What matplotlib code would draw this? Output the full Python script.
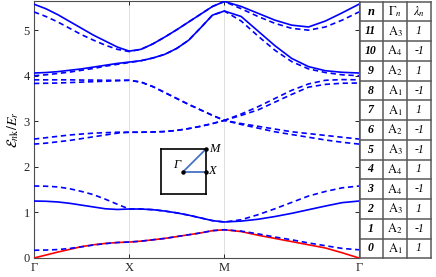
import numpy as np
import matplotlib
matplotlib.use("Agg")
import matplotlib.pyplot as plt

plt.rcParams['font.family'] = ['Liberation Serif', 'DejaVu Serif']
plt.rcParams['mathtext.fontset'] = 'stix'

# ---- data: band energies sampled along Γ-X, X-M, M-Γ (9 samples per segment, shared ends)
frac = [0, .125, .25, .375, .5, .625, .75, .875, 1]
seg_len = [1.0, 1.0, np.sqrt(2)]
k_labels = ['Γ', 'X', 'M', 'Γ']

band0 = [0, .065, .13, .19, .25, .29, .32, .34, .35,
         .37, .40, .43, .47, .51, .55, .60, .62,
         .58, .50, .43, .36, .29, .22, .115, 0]
band1 = [.17, .175, .185, .21, .245, .285, .315, .34, .35,
         .37, .40, .43, .47, .51, .55, .60, .62,
         .59, .53, .46, .40, .33, .27, .21, .18]
band2 = [1.25, 1.245, 1.23, 1.20, 1.16, 1.12, 1.08, 1.065, 1.075,
         1.075, 1.06, 1.03, .99, .94, .88, .82, .79,
         .81, .85, .91, .98, 1.06, 1.14, 1.215, 1.25]
band3 = [1.58, 1.575, 1.56, 1.52, 1.46, 1.39, 1.29, 1.18, 1.075,
         1.075, 1.06, 1.03, .99, .94, .88, .82, .79,
         .84, .95, 1.08, 1.22, 1.36, 1.46, 1.54, 1.58]
band4 = [2.50, 2.52, 2.55, 2.58, 2.62, 2.66, 2.70, 2.74, 2.76,
         2.76, 2.765, 2.775, 2.80, 2.84, 2.89, 2.95, 3.02,
         2.93, 2.85, 2.77, 2.71, 2.65, 2.59, 2.54, 2.50]
band5 = [2.61, 2.64, 2.67, 2.70, 2.72, 2.74, 2.75, 2.76, 2.76,
         2.76, 2.765, 2.775, 2.80, 2.84, 2.89, 2.95, 3.02,
         2.95, 2.89, 2.83, 2.77, 2.73, 2.69, 2.65, 2.61]
band6 = [3.83, 3.835, 3.84, 3.85, 3.86, 3.87, 3.88, 3.89, 3.90,
         3.86, 3.76, 3.63, 3.50, 3.37, 3.25, 3.13, 3.02,
         3.13, 3.25, 3.42, 3.59, 3.75, 3.81, 3.835, 3.84]
band7 = [3.91, 3.91, 3.91, 3.91, 3.905, 3.905, 3.90, 3.90, 3.90,
         3.86, 3.76, 3.63, 3.50, 3.37, 3.25, 3.13, 3.02,
         3.16, 3.32, 3.50, 3.68, 3.82, 3.90, 3.915, 3.91]
band8 = [4.00, 4.02, 4.05, 4.08, 4.12, 4.16, 4.21, 4.25, 4.29,
         4.33, 4.39, 4.47, 4.60, 4.78, 5.05, 5.33, 5.42,
         5.20, 4.87, 4.56, 4.31, 4.15, 4.07, 4.02, 4.00]
band9 = [4.06, 4.07, 4.09, 4.12, 4.15, 4.19, 4.23, 4.27, 4.30,
         4.33, 4.39, 4.47, 4.60, 4.78, 5.05, 5.33, 5.42,
         5.30, 4.98, 4.66, 4.38, 4.20, 4.11, 4.075, 4.06]
band10 = [5.40, 5.30, 5.18, 5.04, 4.90, 4.78, 4.67, 4.58, 4.53,
          4.58, 4.70, 4.85, 5.01, 5.18, 5.35, 5.52, 5.63,
          5.47, 5.30, 5.15, 5.04, 5.00, 5.07, 5.22, 5.40]
band11 = [5.57, 5.47, 5.34, 5.19, 5.04, 4.89, 4.76, 4.63, 4.54,
          4.58, 4.70, 4.85, 5.01, 5.18, 5.35, 5.52, 5.63,
          5.52, 5.37, 5.22, 5.11, 5.07, 5.20, 5.38, 5.57]

bands = [band0, band1, band2, band3, band4, band5, band6, band7,
         band8, band9, band10, band11]
dashed = [False, True, False, True, True, True, True, True, True, False, True, False]

# table data
tab_n = ['11', '10', '9', '8', '7', '6', '5', '4', '3', '2', '1', '0']
tab_irrep = ['3', '4', '2', '1', '1', '2', '3', '4', '4', '3', '2', '1']
tab_lam = ['1', '-1', '1', '-1', '1', '-1', '-1', '1', '-1', '1', '-1', '1']

# ---- path coordinates
f = np.array(frac)
k = np.concatenate([f * seg_len[0],
                    seg_len[0] + f[1:] * seg_len[1],
                    seg_len[0] + seg_len[1] + f[1:] * seg_len[2]])
kticks = np.cumsum([0] + seg_len)

W, H = 436, 277
fig = plt.figure(figsize=(W / 100, H / 100), dpi=100)
ax = fig.add_axes([34 / W, 1 - 258 / H, (359 - 34) / W, (258 - 1) / H])

blue = (0, 0, 1)
for i, b in enumerate(bands):
    if i == 0:
        ax.plot(k, b, color='red', lw=1.2, solid_capstyle='butt', zorder=3)
    elif dashed[i]:
        ax.plot(k, b, color=blue, lw=1.2, ls=(0, (3.2, 2.2)), zorder=4)
    else:
        ax.plot(k, b, color=blue, lw=1.2, zorder=3)

ax.set_xlim(kticks[0], kticks[-1])
ax.set_ylim(0, 5.64)
ax.set_xticks(kticks)
ax.set_xticklabels(k_labels, fontsize=9)
ax.set_yticks([0, 1, 2, 3, 4, 5])
ax.set_yticklabels(['0', '1', '2', '3', '4', '5'], fontsize=9)
ax.tick_params(direction='in', length=3, width=0.7, top=True, right=True,
               colors=(0.15, 0.15, 0.15), pad=3)
for sp in ax.spines.values():
    sp.set_color((0.3, 0.3, 0.3))
    sp.set_linewidth(0.8)
for xv in kticks[1:-1]:
    ax.axvline(xv, color=(0.87, 0.87, 0.87), lw=0.7, zorder=0)
ax.set_ylabel(r'$\mathcal{E}_{n\mathrm{k}}/E_r$', fontsize=10, labelpad=2)

# ---- inset Brillouin zone
ins = fig.add_axes([160.7 / W, 1 - 194 / H, (206 - 160.7) / W, (194 - 149) / H])
ins.set_xlim(-1, 1)
ins.set_ylim(-1, 1)
ins.set_xticks([])
ins.set_yticks([])
for sp in ins.spines.values():
    sp.set_color('black')
    sp.set_linewidth(1.2)
lc = (0.27, 0.45, 0.77)
ins.plot([0, 1], [0, 1], color=lc, lw=1.3, clip_on=False)
ins.plot([0, 1], [0, 0], color=lc, lw=1.3, clip_on=False)
ins.plot([0, 1, 1], [0, 0, 1], 'o', color='black', ms=2.2, clip_on=False, zorder=5)
ins.text(-0.12, 0.02, 'Γ', style='italic', fontsize=9, ha='right', va='bottom')
ins.text(1.12, 0.0, 'X', style='italic', fontsize=9, ha='left', va='center')
ins.text(1.12, 1.0, 'M', style='italic', fontsize=9, ha='left', va='center', clip_on=False)

# ---- table
tx0, tx1 = 360, 431
ty0, ty1 = 1.7, 258.3
tab = fig.add_axes([tx0 / W, 1 - ty1 / H, (tx1 - tx0) / W, (ty1 - ty0) / H])
tab.set_xlim(tx0, tx1)
tab.set_ylim(ty1, ty0)
tab.axis('off')
cols = [360, 383, 407, 431]
nrows = 13
rh = (ty1 - ty0) / nrows
lcol = (0.35, 0.35, 0.35)
for c in cols:
    tab.plot([c, c], [ty0, ty1], color=lcol, lw=1.1, clip_on=False)
for r in range(nrows + 1):
    y = ty0 + r * rh
    tab.plot([cols[0], cols[-1]], [y, y], color=lcol, lw=1.1, clip_on=False)
cx = [(cols[i] + cols[i + 1]) / 2 for i in range(3)]
yc = ty0 + rh / 2
tab.text(cx[0], yc, 'n', fontsize=9, fontweight='bold', style='italic', ha='center', va='center')
tab.text(cx[1], yc, r'$\mathit{\Gamma}_n$', fontsize=9, ha='center', va='center')
tab.text(cx[2], yc, r'$\lambda_n$', fontsize=9, ha='center', va='center')
for i in range(12):
    y = ty0 + (i + 1.5) * rh
    tab.text(cx[0] - 1, y, tab_n[i], fontsize=8.5, fontweight='bold', style='italic',
             ha='center', va='center')
    tab.text(cx[1], y, r'$\mathrm{A}_{%s}$' % tab_irrep[i], fontsize=9, ha='center', va='center')
    tab.text(cx[2], y, tab_lam[i], fontsize=8.5, style='italic', ha='center', va='center')

fig.savefig('out.png', dpi=100)
